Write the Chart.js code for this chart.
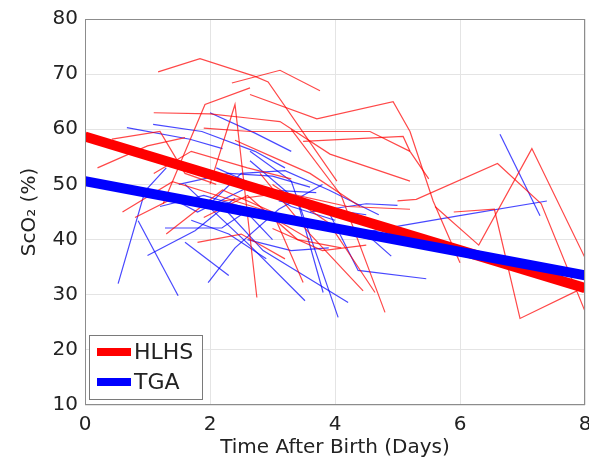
<!DOCTYPE html>
<html>
<head>
<meta charset="utf-8">
<script src="https://cdn.jsdelivr.net/npm/chart.js@4"></script>
<style>
  html, body { margin: 0; padding: 0; background: #fff; }
  #wrap { width: 589px; height: 464px; }
</style>
</head>
<body>
<div id="wrap"><canvas id="sco2Chart" width="589" height="464"></canvas></div>
<script>
// individual patient traces, [day, ScO2 %]
const hlhsTraces = [
  [[1.17,70.4],[1.84,72.8],[2.72,69.6],[2.93,68.6],[4.03,50.6]],
  [[2.35,68.4],[3.12,70.7],[3.76,67.0]],
  [[1.25,46.5],[1.92,64.5],[2.64,67.5]],
  [[1.1,63.0],[2.0,62.8],[2.64,62.0],[3.12,61.4],[3.92,55.5],[5.2,50.6]],
  [[2.64,66.3],[3.71,61.9],[4.93,65.0],[5.2,59.6],[5.57,47.0],[6.0,35.8]],
  [[1.9,60.2],[2.64,59.6],[4.56,59.6],[5.2,56.0]],
  [[3.49,57.8],[5.09,58.7],[5.2,56.0],[5.5,51.0]],
  [[5.0,47.0],[5.3,47.3],[6.6,53.8],[7.3,46.5],[8.0,27.0]],
  [[5.6,46.0],[6.3,39.0],[7.15,56.5],[8.0,36.7]],
  [[5.9,45.0],[6.55,45.5],[6.96,25.7],[7.87,30.7]],
  [[0.43,58.2],[1.2,59.6],[1.6,52.0],[2.1,50.0]],
  [[2.0,50.0],[2.4,64.5],[2.75,29.5]],
  [[1.3,41.0],[2.2,49.0],[3.0,45.0],[3.49,32.2]],
  [[2.8,52.0],[3.6,41.0],[4.45,30.7]],
  [[3.0,50.0],[3.9,43.0],[4.64,30.4]],
  [[3.3,60.0],[4.1,48.0],[4.8,26.8]],
  [[0.8,44.0],[1.5,48.0],[2.2,45.5],[3.0,44.0],[3.6,40.0]],
  [[1.1,52.0],[1.7,56.0],[2.6,53.0],[3.3,51.0]],
  [[0.2,53.0],[1.0,57.0],[1.6,58.5]],
  [[2.2,47.0],[3.2,48.5],[4.2,46.0],[5.2,45.5]],
  [[3.0,42.0],[3.8,38.0],[4.5,39.0]],
  [[1.8,39.5],[2.5,41.0],[3.2,36.5]],
  [[0.6,45.0],[1.4,50.5],[2.4,47.0],[3.1,44.5]],
  [[1.5,54.0],[2.2,51.0],[2.9,49.0],[3.5,47.5]],
  [[1.9,44.0],[2.6,48.0],[3.4,40.0],[4.1,38.5]],
  [[2.4,58.0],[3.0,55.0],[3.6,52.0],[4.4,46.0]]
];

const tgaTraces = [
  [[0.53,32.0],[0.96,48.8],[1.3,53.0]],
  [[0.85,43.4],[1.49,29.8]],
  [[1.0,37.1],[1.76,41.6],[2.4,47.5]],
  [[1.28,42.1],[2.19,42.1],[2.5,44.5]],
  [[1.97,32.2],[2.4,38.5],[3.1,45.5],[3.8,50.0]],
  [[1.09,60.9],[1.87,59.6],[2.72,56.0],[3.2,53.0]],
  [[0.67,60.3],[1.68,58.2],[2.2,56.5]],
  [[2.0,63.0],[2.72,59.3],[3.3,56.0]],
  [[2.64,56.0],[3.3,50.6],[4.05,25.9]],
  [[2.64,54.3],[3.4,47.0],[3.81,30.4]],
  [[1.6,50.0],[2.64,38.9],[3.52,28.9]],
  [[2.2,46.0],[2.85,38.0],[4.21,28.6]],
  [[3.9,45.0],[4.37,34.4],[5.46,32.9]],
  [[4.3,41.0],[5.04,42.5],[5.97,44.3],[7.39,47.0]],
  [[6.64,59.1],[7.28,44.3]],
  [[1.5,50.0],[2.3,52.0],[3.0,51.5],[3.6,49.5]],
  [[2.0,46.5],[2.5,52.0],[3.2,52.5],[3.9,49.0],[4.7,44.5]],
  [[3.6,45.0],[4.5,46.5],[5.0,46.2]],
  [[1.3,48.0],[1.8,45.0],[2.7,50.0]],
  [[3.3,44.0],[3.8,42.0],[4.6,40.0],[4.9,37.0]],
  [[1.6,39.5],[2.3,33.5]],
  [[2.6,40.0],[3.3,38.0],[3.9,38.5]],
  [[1.2,46.0],[1.9,48.0],[2.5,46.0],[3.0,40.0]],
  [[2.3,50.5],[2.9,49.0],[3.7,48.5]],
  [[1.7,43.5],[2.3,41.0],[2.9,36.5]],
  [[2.1,53.0],[2.6,50.5],[3.3,46.0],[4.0,43.5]],
  [[3.1,47.0],[3.7,45.8],[4.5,44.5]]
];

// group regression lines
const hlhsFit = [[0, 58.7], [8, 31.2]];
const tgaFit = [[0, 50.6], [8, 33.5]];

const xTicks = [0, 2, 4, 6, 8];
const yTicks = [10, 20, 30, 40, 50, 60, 70, 80];

const RED = "#ff0000";
const BLUE = "#0000ff";
const FONT = "'DejaVu Sans', sans-serif";

const toXY = pts => pts.map(p => ({ x: p[0], y: p[1] }));

const datasets = [];
hlhsTraces.forEach(t => datasets.push({
  data: toXY(t), borderColor: "rgba(255,0,0,0.72)", borderWidth: 1.2, order: 2
}));
tgaTraces.forEach(t => datasets.push({
  data: toXY(t), borderColor: "rgba(0,0,255,0.72)", borderWidth: 1.2, order: 2
}));
datasets.push({ label: "HLHS", data: toXY(hlhsFit), borderColor: RED, borderWidth: 10, order: 1 });
datasets.push({ label: "TGA", data: toXY(tgaFit), borderColor: BLUE, borderWidth: 10, order: 0 });

// axes box + inset legend, MATLAB style
const boxLegend = {
  id: "boxLegend",
  afterDraw(chart) {
    const { ctx, chartArea: a } = chart;
    ctx.save();
    ctx.strokeStyle = "#8c8c8c";
    ctx.lineWidth = 1;
    ctx.strokeRect(a.left + 0.5, a.top + 0.5, a.right - a.left - 1, a.bottom - a.top - 1);

    const lx = 89, ly = 335, lw = 113, lh = 64;
    ctx.fillStyle = "#fff";
    ctx.fillRect(lx, ly, lw, lh);
    ctx.strokeStyle = "#7a7a7a";
    ctx.strokeRect(lx + 0.5, ly + 0.5, lw, lh);

    const items = [["HLHS", RED, 352], ["TGA", BLUE, 382]];
    ctx.font = "22px " + FONT;
    ctx.textBaseline = "middle";
    items.forEach(([txt, col, y]) => {
      ctx.strokeStyle = col;
      ctx.lineWidth = 8;
      ctx.beginPath();
      ctx.moveTo(97, y);
      ctx.lineTo(131, y);
      ctx.stroke();
      ctx.fillStyle = "#222";
      ctx.fillText(txt, 134, y + 1);
    });
    ctx.restore();
  }
};

new Chart(document.getElementById("sco2Chart"), {
  type: "line",
  data: { datasets },
  options: {
    responsive: false,
    animation: false,
    elements: { point: { radius: 0 }, line: { tension: 0, fill: false } },
    layout: { padding: { top: 17, right: 4, left: 0, bottom: 0 } },
    plugins: { legend: { display: false }, tooltip: { enabled: false } },
    scales: {
      x: {
        type: "linear",
        min: 0, max: 8,
        afterFit(s) { s.height = 59; s.paddingLeft = 0; s.paddingRight = 0; },
        afterBuildTicks(s) { s.ticks = xTicks.map(v => ({ value: v })); },
        grid: { color: "#e4e4e4", drawTicks: false },
        border: { display: false },
        ticks: { color: "#222", font: { family: FONT, size: 20 }, padding: 8, maxRotation: 0 },
        title: { display: true, text: "Time After Birth (Days)", color: "#222",
                 font: { family: FONT, size: 20 }, padding: { top: 0, bottom: 4 } }
      },
      y: {
        type: "linear",
        min: 10, max: 80,
        afterFit(s) { s.width = 85; },
        afterBuildTicks(s) { s.ticks = yTicks.map(v => ({ value: v })); },
        grid: { color: "#e4e4e4", drawTicks: false },
        border: { display: false },
        ticks: { color: "#222", font: { family: FONT, size: 20 }, padding: 7 },
        title: { display: true, text: "ScO₂ (%)", color: "#222",
                 font: { family: FONT, size: 20 }, padding: { top: 18, bottom: 0 } }
      }
    }
  },
  plugins: [boxLegend]
});
</script>
</body>
</html>
